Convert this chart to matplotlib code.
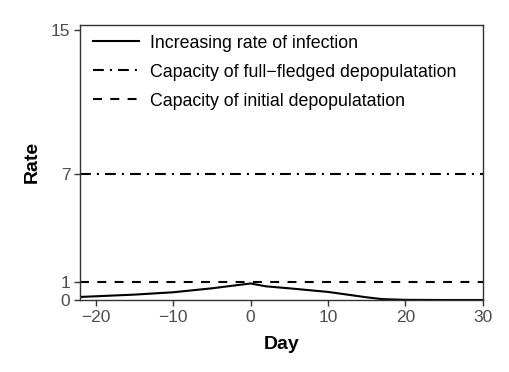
import matplotlib
matplotlib.use("Agg")
import matplotlib.pyplot as plt

plt.rcParams['font.family'] = ['Liberation Sans', 'DejaVu Sans']

days = [-22, -15, -10, -5, 0, 2, 5, 10, 15, 17, 20, 25, 30]
rate = [0.17, 0.30, 0.43, 0.65, 0.92, 0.76, 0.65, 0.45, 0.15, 0.05, 0.01, 0.0, 0.0]
full_capacity = 7
initial_capacity = 1
xticks = [-20, -10, 0, 10, 20, 30]
yticks = [0, 1, 7, 15]

fig = plt.figure(figsize=(5.1, 3.72), dpi=100)
ax = fig.add_axes([0.157, 0.1935, 0.79, 0.74])

lw = 1.5
ax.plot(days, rate, color='black', lw=lw, label='Increasing rate of infection')
ax.axhline(full_capacity, color='black', lw=lw, ls=(0, (5.2, 2.9, 1.0, 2.9)),
           label='Capacity of full\u2212fledged depopulatation')
ax.axhline(initial_capacity, color='black', lw=lw, ls=(0, (4.3, 4.0)),
           label='Capacity of initial depopulatation')

ax.set_xlim(-22, 30)
ax.set_ylim(0, 15.3)
ax.set_xticks(xticks)
ax.set_xticklabels([str(t).replace('-', '\u2212') for t in xticks])
ax.set_yticks(yticks)
ax.tick_params(axis='both', direction='out', length=4, width=1, color='#333333',
               labelsize=12.5, labelcolor='#4D4D4D', pad=3)
for s in ax.spines.values():
    s.set_color('#333333')
    s.set_linewidth(1)

ax.set_xlabel('Day', fontsize=14, fontweight='bold', labelpad=8)
ax.set_ylabel('Rate', fontsize=14, fontweight='bold', labelpad=7)

leg = ax.legend(loc='upper left', frameon=False, fontsize=12.8, handlelength=2.6,
                handletextpad=0.6, labelspacing=0.68, borderaxespad=0.15,
                bbox_to_anchor=(0.008, 1.0))

fig.savefig('out.png', dpi=100)
